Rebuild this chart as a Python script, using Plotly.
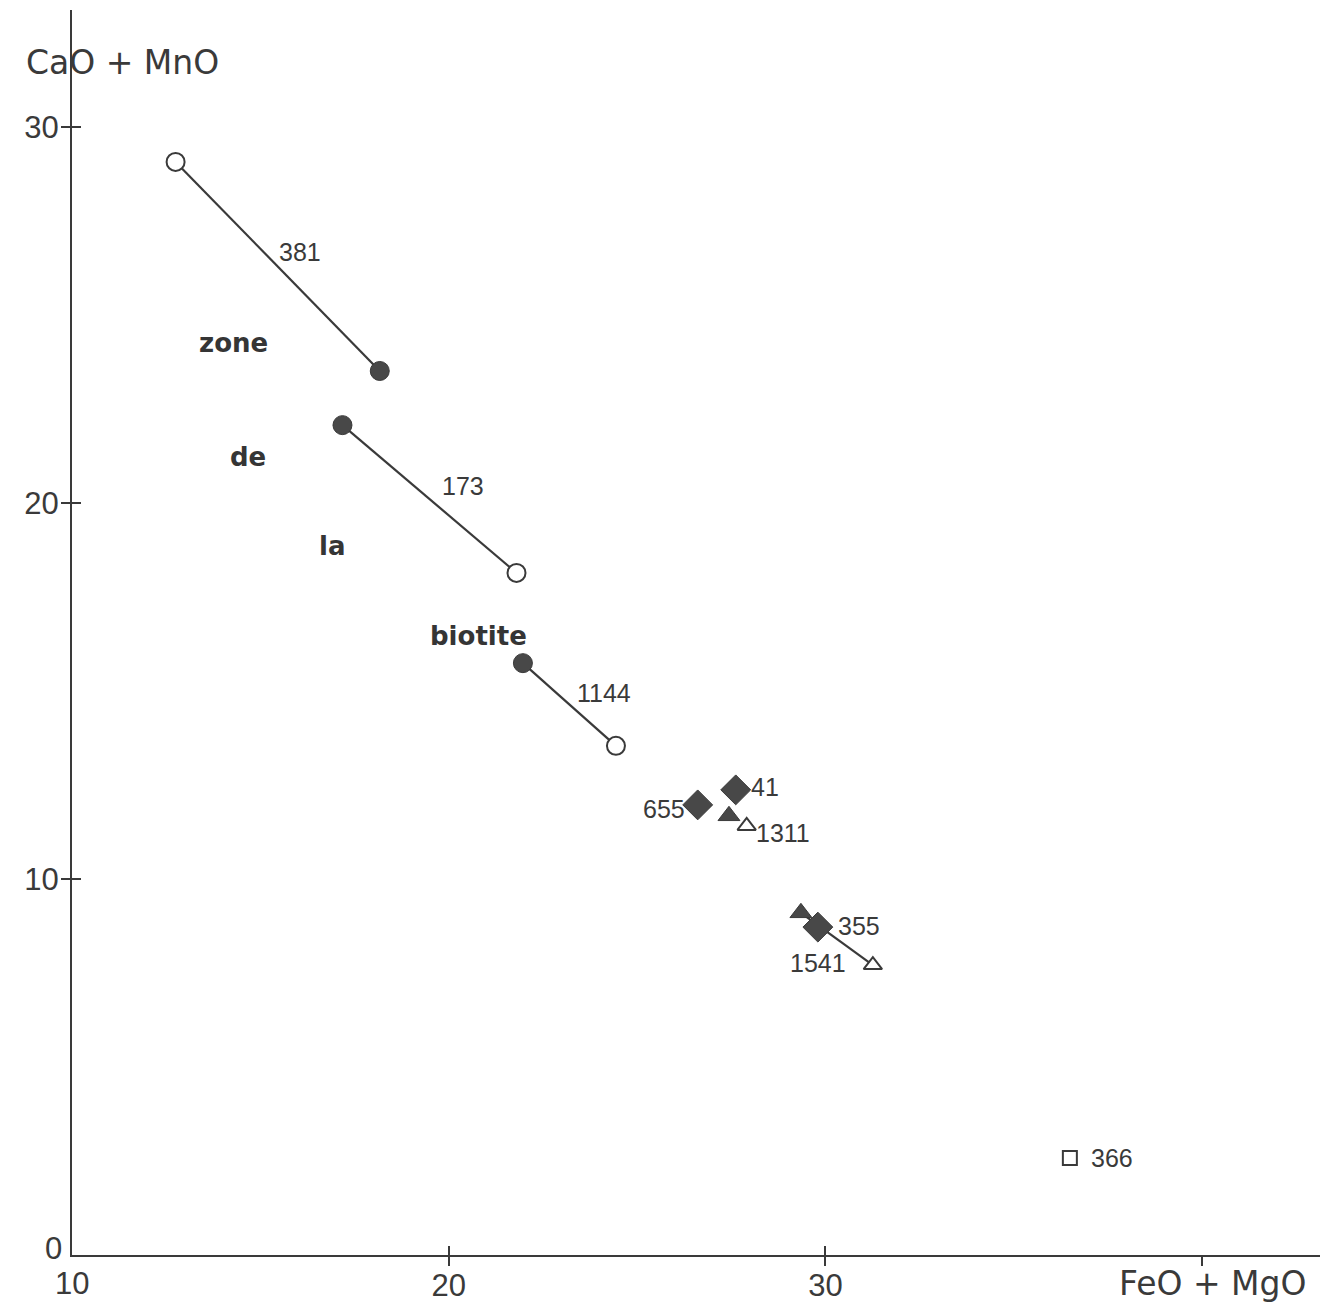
import plotly.graph_objects as go

# Garnet compositions: CaO+MnO versus FeO+MgO (wt %)
# Paired analyses (core = filled, rim = open), joined by a tie line
pair_ids = ["381", "173", "1144", "1541"]
pair_kind = ["circle", "circle", "circle", "triangle"]
pair_filled_x = [18.17, 17.18, 21.97, 29.35]
pair_filled_y = [23.51, 22.07, 15.74, 9.10]
pair_open_x = [12.75, 21.80, 24.44, 31.26]
pair_open_y = [29.07, 18.14, 13.54, 7.71]

# Sample 1311: filled and open triangles without tie line
tri_ids = ["1311"]
tri_filled_x = [27.44]
tri_filled_y = [11.68]
tri_open_x = [27.91]
tri_open_y = [11.41]

# Single analyses
diamond_ids = ["655", "41", "355"]
diamond_x = [26.61, 27.62, 29.80]
diamond_y = [11.97, 12.37, 8.72]

square_ids = ["366"]
square_x = [36.49]
square_y = [2.58]

# Field label
zone_words = ["zone", "de", "la", "biotite"]
zone_x = [14.29, 14.66, 16.89, 20.80]
zone_y = [24.26, 21.22, 18.86, 16.46]

x_tick_vals = [20, 30, 40]
x_tick_text = ["20", "30", ""]
y_tick_vals = [10, 20, 30]
y_tick_text = ["10", "20", "30"]

INK = "#3a3a3a"
FILL = "#484848"
NUM_FONT = dict(family="Liberation Sans, Arial, sans-serif", size=25, color=INK)

fig = go.Figure()

# tie lines
for i in range(len(pair_ids)):
    fig.add_trace(go.Scatter(
        x=[pair_open_x[i], pair_filled_x[i]],
        y=[pair_open_y[i], pair_filled_y[i]],
        mode="lines", line=dict(color=INK, width=2.2),
        hoverinfo="skip", showlegend=False))

circ = [i for i, k in enumerate(pair_kind) if k == "circle"]
tri = [i for i, k in enumerate(pair_kind) if k == "triangle"]

# filled circles
fig.add_trace(go.Scatter(
    x=[pair_filled_x[i] for i in circ], y=[pair_filled_y[i] for i in circ],
    mode="markers", marker=dict(symbol="circle", size=19, color=FILL,
                                line=dict(color=INK, width=1)),
    showlegend=False))
# open circles
fig.add_trace(go.Scatter(
    x=[pair_open_x[i] for i in circ], y=[pair_open_y[i] for i in circ],
    mode="markers", marker=dict(symbol="circle", size=18, color="white",
                                line=dict(color=INK, width=2)),
    showlegend=False))
# filled triangles
fig.add_trace(go.Scatter(
    x=[pair_filled_x[i] for i in tri] + tri_filled_x,
    y=[pair_filled_y[i] for i in tri] + tri_filled_y,
    mode="markers", marker=dict(symbol="triangle-up", size=19, color=FILL,
                                line=dict(color=INK, width=1)),
    showlegend=False))
# open triangles
fig.add_trace(go.Scatter(
    x=[pair_open_x[i] for i in tri] + tri_open_x,
    y=[pair_open_y[i] for i in tri] + tri_open_y,
    mode="markers", marker=dict(symbol="triangle-up", size=16, color="white",
                                line=dict(color=INK, width=2)),
    showlegend=False))
# diamonds
fig.add_trace(go.Scatter(
    x=diamond_x, y=diamond_y, mode="markers",
    marker=dict(symbol="diamond", size=23, color=FILL, line=dict(color=INK, width=1)),
    showlegend=False))
# open square
fig.add_trace(go.Scatter(
    x=square_x, y=square_y, mode="markers",
    marker=dict(symbol="square", size=14, color="white", line=dict(color=INK, width=2)),
    showlegend=False))

ann = []
# tie-line labels placed beside the midpoint of each line
pair_label_shift = {"381": (22, 14), "173": (34, 13), "1144": (35, 12)}
for i, name in enumerate(pair_ids):
    if name in pair_label_shift:
        dx, dy = pair_label_shift[name]
        ann.append(dict(x=(pair_open_x[i] + pair_filled_x[i]) / 2,
                        y=(pair_open_y[i] + pair_filled_y[i]) / 2,
                        text=name, showarrow=False, xshift=dx, yshift=dy, font=NUM_FONT))
# 1541 label beside its open triangle
i1541 = pair_ids.index("1541")
ann.append(dict(x=pair_open_x[i1541], y=pair_open_y[i1541], text="1541",
                showarrow=False, xshift=-55, yshift=2, font=NUM_FONT))
ann.append(dict(x=tri_open_x[0], y=tri_open_y[0], text=tri_ids[0],
                showarrow=False, xshift=36, yshift=-7, font=NUM_FONT))
diamond_shift = [(-34, -4), (29, 3), (41, 1)]
for name, xv, yv, (dx, dy) in zip(diamond_ids, diamond_x, diamond_y, diamond_shift):
    ann.append(dict(x=xv, y=yv, text=name, showarrow=False, xshift=dx, yshift=dy, font=NUM_FONT))
for name, xv, yv in zip(square_ids, square_x, square_y):
    ann.append(dict(x=xv, y=yv, text=name, showarrow=False, xshift=42, yshift=0, font=NUM_FONT))

for w, xv, yv in zip(zone_words, zone_x, zone_y):
    ann.append(dict(x=xv, y=yv, text="<b>" + w + "</b>", showarrow=False,
                    font=dict(family="DejaVu Sans, sans-serif", size=26, color="#353535")))

TICK_FONT = dict(family="Liberation Sans, Arial, sans-serif", size=31, color=INK)
TITLE_FONT = dict(family="DejaVu Sans, sans-serif", size=33, color=INK)

# corner tick labels
ann.append(dict(x=10, y=0, xref="x", yref="y", text="10", showarrow=False,
                yshift=-28, font=TICK_FONT))
ann.append(dict(x=10, y=0, xref="x", yref="y", text="0", showarrow=False,
                xshift=-19, yshift=7, font=TICK_FONT))
# axis titles
ann.append(dict(x=0.0405, y=0.958, xref="paper", yref="paper", text="CaO + MnO",
                xanchor="center", yanchor="middle", showarrow=False, font=TITLE_FONT))
ann.append(dict(x=0.914, y=-0.0225, xref="paper", yref="paper", text="FeO + MgO",
                xanchor="center", yanchor="middle", showarrow=False, font=TITLE_FONT))

fig.update_layout(
    width=1335, height=1315,
    margin=dict(l=72, r=15, t=10, b=60),
    paper_bgcolor="white", plot_bgcolor="white",
    annotations=ann,
    xaxis=dict(range=[10, 43.13], showgrid=False, zeroline=False,
               showline=True, linecolor=INK, linewidth=2,
               tickvals=x_tick_vals, ticktext=x_tick_text,
               ticks="inside", ticklen=9, tickwidth=2, tickcolor=INK,
               minor=dict(tickvals=x_tick_vals, ticks="outside", ticklen=9,
                          tickwidth=2, tickcolor=INK),
               ticklabelstandoff=2,
               tickfont=TICK_FONT),
    yaxis=dict(range=[0, 33.11], showgrid=False, zeroline=False,
               showline=True, linecolor=INK, linewidth=2,
               tickvals=y_tick_vals, ticktext=y_tick_text,
               ticks="inside", ticklen=9, tickwidth=2, tickcolor=INK,
               minor=dict(tickvals=y_tick_vals, ticks="outside", ticklen=9,
                          tickwidth=2, tickcolor=INK),
               ticklabelstandoff=5,
               tickfont=TICK_FONT),
)

fig.write_html("out.html")
